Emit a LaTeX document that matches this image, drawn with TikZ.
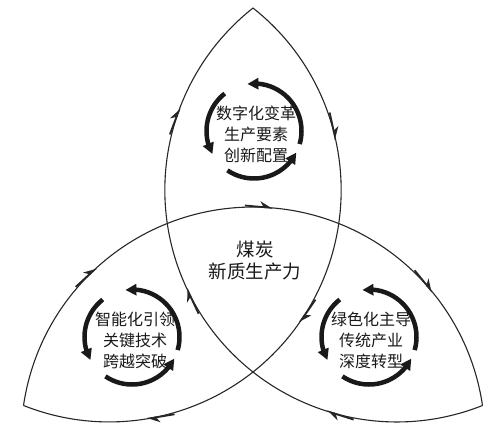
\documentclass[tikz,border=0pt]{standalone}
\usepackage{fontspec}
\newfontfamily\cjk{Noto Sans CJK SC}
\usetikzlibrary{arrows.meta,bending,decorations.markings}
\newcommand\myflowarrow{\draw[line width=1.8pt,-{Stealth[harpoon,length=11pt,width=11pt]}] (-28,0) -- (0,0);}
\newcommand\mycycle[1]{%
  \draw[cycarc] (#1) ++(128:47.5) arc[start angle=128,end angle=209,radius=47.5];
  \draw[cycarc] (#1) ++(-16:47.5) arc[start angle=-16,end angle=98,radius=47.5];
  \draw[cycarc] (#1) ++(236:47.5) arc[start angle=236,end angle=333,radius=47.5];}
\begin{document}
\begin{tikzpicture}[x=1pt,y=1pt,
  bigarc/.style={line width=1.1pt, draw=black!85},
  cycarc/.style={line width=4.5pt, draw=black!90, -{Triangle[length=11pt,width=11pt]}},
  flowmarks/.style={postaction={decorate}, decoration={markings,
     mark=at position 0.24 with {\myflowarrow},
     mark=at position 0.53 with {\myflowarrow},
     mark=at position 0.81 with {\myflowarrow}}},
  petaltext/.style={font=\cjk\fontsize{16}{21}\selectfont, align=center, inner sep=0pt, text=black!90},
  centertext/.style={font=\cjk\fontsize{18.5}{22}\selectfont, align=center, inner sep=0pt, text=black!90}
]
\useasboundingbox (0,0) rectangle (500,429);
% three large arcs, each joining two apexes
\coordinate (c3) at (253,-10);
\coordinate (c1) at (396.76,239);
\coordinate (c2) at (109.24,239);
\draw[bigarc, flowmarks] (c3) ++(171.7:231.93) arc[start angle=171.7, end angle=8.3, radius=231.93];
\draw[bigarc, flowmarks] (c1) ++(291.7:231.93) arc[start angle=291.7, end angle=128.3, radius=231.93];
\draw[bigarc, flowmarks] (c2) ++(51.7:231.93) arc[start angle=51.7, end angle=-111.7, radius=231.93];
% circular arrows
\coordinate (ptop) at (254,298);
\coordinate (pleft) at (132,92);
\coordinate (pright) at (369,92);
\mycycle{ptop}
\mycycle{pleft}
\mycycle{pright}
% texts
\node[petaltext] (ttop) at (256,295) {数字化变革\\生产要素\\创新配置};
\node[petaltext] (tleft) at (135,89) {智能化引领\\关键技术\\跨越突破};
\node[petaltext] (tright) at (371,89) {绿色化主导\\传统产业\\深度转型};
\node[centertext] (tcenter) at (255,168) {煤炭\\新质生产力};
\end{tikzpicture}
\end{document}
